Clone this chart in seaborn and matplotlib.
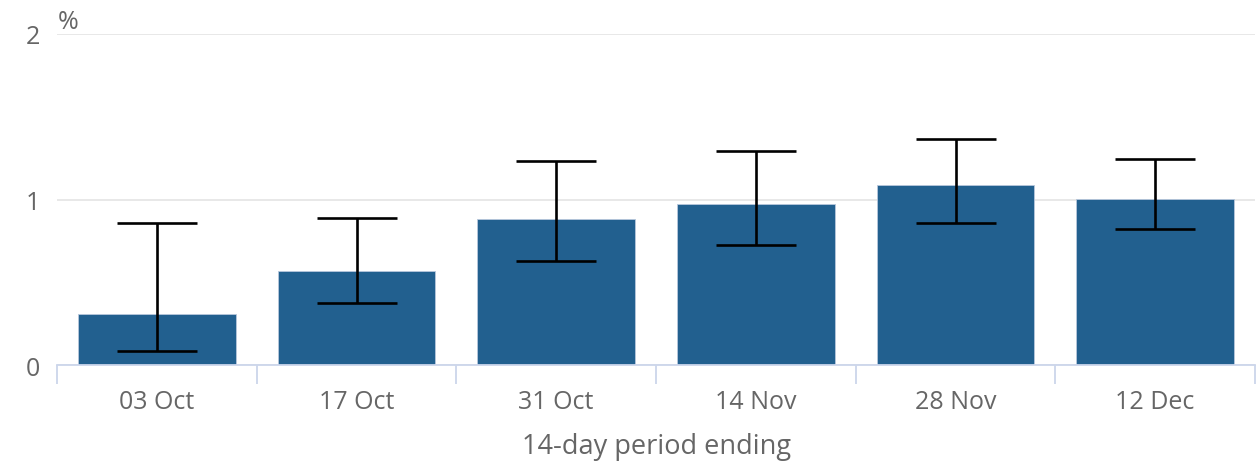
import numpy as np
import pandas as pd
import matplotlib
matplotlib.use("Agg")
import matplotlib.pyplot as plt
import seaborn as sns

periods = ["03 Oct", "17 Oct", "31 Oct", "14 Nov", "28 Nov", "12 Dec"]
estimate = [0.31, 0.57, 0.885, 0.975, 1.085, 1.005]
lower_ci = [0.085, 0.375, 0.63, 0.725, 0.86, 0.82]
upper_ci = [0.86, 0.89, 1.23, 1.295, 1.365, 1.245]

sns.set_theme(style="white")
plt.rcParams["font.family"] = ["Open Sans", "DejaVu Sans"]

text_col = "#666666"
bar_col = "#22608f"

df = pd.DataFrame({"period": periods, "value": estimate})

fig = plt.figure(figsize=(12.56, 4.64), dpi=100)
ax = fig.add_axes([57 / 1256, 1 - 366 / 464, 1198 / 1256, 331 / 464])

sns.barplot(data=df, x="period", y="value", color=bar_col, saturation=1,
            width=0.79, edgecolor="#b8c8dc", linewidth=0.6, errorbar=None, ax=ax)

# confidence intervals
pos = np.arange(len(periods))
est = np.array(estimate)
yerr = np.vstack([est - np.array(lower_ci), np.array(upper_ci) - est])
ax.errorbar(pos, est, yerr=yerr, fmt="none", ecolor="black", elinewidth=1.9,
            capsize=29, capthick=1.9, zorder=5)

ax.set_ylim(0, 2)
ax.set_xlim(-0.5, len(periods) - 0.5)
ax.set_yticks([0, 1, 2])
ax.yaxis.grid(True, color="#e6e6e6", linewidth=1.3)
ax.set_axisbelow(True)

for s in ["top", "right", "left"]:
    ax.spines[s].set_visible(False)
ax.spines["bottom"].set_color("#ccd6eb")
ax.spines["bottom"].set_linewidth(1.3)

ax.set_xticks(np.arange(-0.5, len(periods)), minor=True)
ax.tick_params(axis="x", which="minor", bottom=True, length=14, width=1.3,
               color="#ccd6eb", direction="out")
ax.tick_params(axis="x", which="major", length=0, pad=17, labelsize=18, labelcolor=text_col)
ax.tick_params(axis="y", length=0, pad=12, labelsize=18, labelcolor=text_col)

ax.set_xlabel("14-day period ending", fontsize=19.5, color=text_col, labelpad=13)
ax.set_ylabel("")
ax.text(0.001, 1.0, "%", transform=ax.transAxes, fontsize=18, color=text_col,
        ha="left", va="bottom")

fig.savefig("out.png", dpi=100)
